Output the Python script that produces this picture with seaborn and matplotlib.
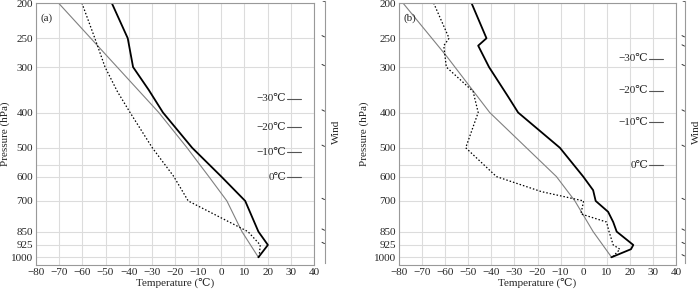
import numpy as np
import pandas as pd
import seaborn as sns
import matplotlib.pyplot as plt
from matplotlib.ticker import FixedLocator, NullLocator

sns.set_theme(style="white")
plt.rcParams['font.family'] = ['Liberation Serif', 'DejaVu Serif']
FS = 8

p_ticks = [200, 250, 300, 400, 500, 600, 700, 850, 925, 1000]
t_ticks = list(range(-80, 41, 10))

# (a)
a_temp_p = [200, 250, 300, 347, 400, 500, 600, 700, 850, 925, 1000]
a_temp_t = [-47.3, -40.4, -38.1, -31.3, -25.2, -12.6, 0.0, 10.3, 16.0, 20.1, 16.0]
a_dew_p = [200, 250, 300, 350, 400, 500, 600, 700, 850, 925, 1000]
a_dew_t = [-60.2, -54.6, -50.2, -44.9, -39.4, -29.8, -20.5, -14.3, 11.5, 16.8, 16.3]
a_par_p = [200, 400, 500, 600, 700, 850, 1000]
a_par_t = [-70.3, -27.0, -14.8, -5.4, 2.4, 8.9, 16.0]
a_iso_lab = ['\u221230\u2103', '\u221220\u2103', '\u221210\u2103', '0\u2103']
a_iso_p = [367, 439, 514, 602]
a_wind_p = [200, 250, 300, 400, 500, 700, 850, 925]

# (b)
b_temp_p = [200, 250, 262, 300, 362, 400, 500, 600, 654, 700, 750, 800, 850, 925, 950, 1000]
b_temp_t = [-48.6, -42.1, -45.7, -41.0, -32.7, -28.4, -10.3, -0.2, 4.1, 5.2, 10.6, 12.8, 14.3, 21.5, 20.5, 12.0]
b_dew_p = [200, 250, 262, 300, 350, 400, 500, 600, 660, 700, 760, 800, 850, 925, 950, 1000]
b_dew_t = [-65.0, -58.3, -60.6, -59.5, -47.9, -45.7, -51.1, -37.8, -18.3, 0.0, -1.2, 9.9, 11.0, 12.8, 15.7, 12.4]
b_par_p = [200, 281, 400, 500, 600, 700, 850, 1000]
b_par_t = [-78.3, -59.2, -40.7, -24.8, -11.8, -3.8, 4.1, 12.1]
b_iso_lab = ['\u221230\u2103', '\u221220\u2103', '\u221210\u2103', '0\u2103']
b_iso_p = [285, 349, 425, 559]
b_wind_p = [200, 250, 265, 300, 400, 500, 700, 850, 925, 1000]

fig = plt.figure(figsize=(7.0, 2.97), dpi=100)
W, H = 700, 297


def px_axes(x0, x1, y0, y1):
    return fig.add_axes([x0 / W, 1 - y1 / H, (x1 - x0) / W, (y1 - y0) / H])


def panel(ax, wax, tag, ylab_x, tp, tt, dp, dt, pp, pt, iso_lab, iso_p, wind_p):
    sns.lineplot(x=pt, y=pp, sort=False, estimator=None, ax=ax, color='#808080', lw=0.8)
    sns.lineplot(x=dt, y=dp, sort=False, estimator=None, ax=ax, color='black', lw=0.9,
                 linestyle=(0, (1.2, 1.6)))
    sns.lineplot(x=tt, y=tp, sort=False, estimator=None, ax=ax, color='black', lw=1.3)
    ax.set_yscale('log')
    ax.set_ylim(1050, 200)
    ax.set_xlim(-80, 40)
    ax.yaxis.set_major_locator(FixedLocator(p_ticks))
    ax.yaxis.set_minor_locator(NullLocator())
    ax.set_yticklabels([str(v) for v in p_ticks])
    ax.set_xticks(t_ticks)
    for v in p_ticks + [558]:
        ax.axhline(v, color='#dcdcdc', lw=0.8, zorder=0)
    for v in t_ticks:
        ax.axvline(v, color='#dcdcdc', lw=0.8, zorder=0)
    ax.tick_params(axis='both', length=0, pad=2, labelsize=FS)
    for s in ax.spines.values():
        s.set_color('#999999')
        s.set_linewidth(0.8)
    ax.set_xlabel('Temperature (\u2103)', fontsize=FS, labelpad=1)
    ax.set_ylabel('Pressure (hPa)', fontsize=FS)
    ax.yaxis.set_label_coords(ylab_x, 0.5)
    ax.text(-78, 213, tag, fontsize=FS, ha='left', va='top')
    for lab, p in zip(iso_lab, iso_p):
        ax.text(28, p, lab, fontsize=FS, ha='right', va='center')
        ax.plot([28.5, 34.2], [p, p], color='#555555', lw=0.8)

    # wind column
    wax.set_yscale('log')
    wax.set_ylim(1050, 200)
    wax.set_xlim(0, 1)
    wax.set_xticks([])
    wax.yaxis.set_major_locator(NullLocator())
    wax.yaxis.set_minor_locator(NullLocator())
    for k in ['left', 'top', 'bottom']:
        wax.spines[k].set_visible(False)
    wax.spines['right'].set_color('#999999')
    wax.spines['right'].set_linewidth(0.8)
    wax.patch.set_alpha(0)
    for p in wind_p:
        wax.plot([0.7, 0.95], [p * 0.996, p * 1.004], color='#333333', lw=0.7)
    wax.yaxis.set_label_position('right')
    wax.set_ylabel('Wind', fontsize=FS, labelpad=5)


ax_a = px_axes(36, 314, 3, 265)
wa = px_axes(315, 325, 1, 263)
panel(ax_a, wa, '(a)', -0.095, a_temp_p, a_temp_t, a_dew_p, a_dew_t, a_par_p, a_par_t,
      a_iso_lab, a_iso_p, a_wind_p)

ax_b = px_axes(399, 676, 3, 265)
wb = px_axes(675, 685, 1, 263)
panel(ax_b, wb, '(b)', -0.11, b_temp_p, b_temp_t, b_dew_p, b_dew_t, b_par_p, b_par_t,
      b_iso_lab, b_iso_p, b_wind_p)

fig.savefig('out.png', dpi=100)
